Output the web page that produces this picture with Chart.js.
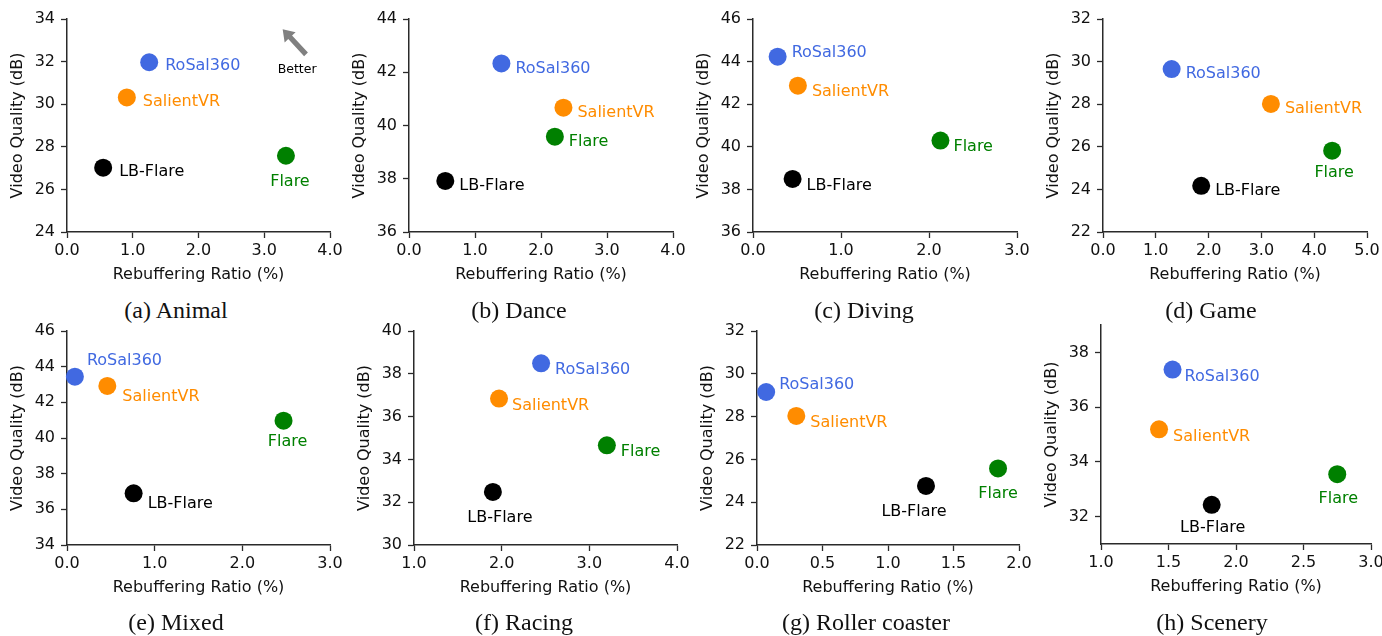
<!DOCTYPE html>
<html>
<head>
<meta charset="utf-8">
<script src="https://cdn.jsdelivr.net/npm/chart.js@4.4.0/dist/chart.umd.min.js"></script>
<style>
  html, body { margin: 0; padding: 0; background: #fff; }
  #page { position: relative; width: 1382px; height: 636px; overflow: hidden; }
  canvas { position: absolute; }
  .caption {
    position: absolute; width: 300px; height: 30px; line-height: 30px;
    text-align: center; font-family: "Liberation Serif", serif; font-size: 24px; color: #111;
  }
</style>
</head>
<body>
<div id="page"></div>
<script>
const videos = ['Animal', 'Dance', 'Diving', 'Game', 'Mixed', 'Racing', 'Roller coaster', 'Scenery'];
const letters = ['a', 'b', 'c', 'd', 'e', 'f', 'g', 'h'];
const methods = ['RoSal360', 'SalientVR', 'Flare', 'LB-Flare'];
const methodColors = ['#4169e1', '#ff8c00', '#008000', '#000000'];

// rebuffering ratio (%), one value per video
const rebufRoSal360 = [1.25, 1.40, 0.28, 1.30, 0.09, 2.45, 0.07, 1.53];
const rebufSalientVR = [0.91, 2.34, 0.51, 3.18, 0.46, 1.97, 0.30, 1.43];
const rebufFlare = [3.33, 2.21, 2.13, 4.34, 2.47, 3.20, 1.84, 2.75];
const rebufLBFlare = [0.55, 0.55, 0.45, 1.86, 0.76, 1.90, 1.29, 1.82];

// video quality (dB), one value per video
const qualRoSal360 = [31.97, 42.33, 44.23, 29.65, 43.44, 38.49, 29.15, 37.37];
const qualSalientVR = [30.32, 40.67, 42.87, 28.01, 42.92, 36.84, 28.03, 35.19];
const qualFlare = [27.58, 39.58, 40.29, 25.82, 40.97, 34.66, 25.58, 33.55];
const qualLBFlare = [27.02, 37.92, 38.49, 24.17, 36.90, 32.48, 24.76, 32.43];

// axis ticks per panel
const xTicks = [
  [0, 1, 2, 3, 4], [0, 1, 2, 3, 4], [0, 1, 2, 3], [0, 1, 2, 3, 4, 5],
  [0, 1, 2, 3], [1, 2, 3, 4], [0, 0.5, 1, 1.5, 2], [1, 1.5, 2, 2.5, 3]
];
const yTicks = [
  [24, 26, 28, 30, 32, 34], [36, 38, 40, 42, 44], [36, 38, 40, 42, 44, 46], [22, 24, 26, 28, 30, 32],
  [34, 36, 38, 40, 42, 44, 46], [30, 32, 34, 36, 38, 40], [22, 24, 26, 28, 30, 32], [32, 34, 36, 38]
];
const yRange = [[24, 34], [36, 44], [36, 46], [22, 32], [34, 46], [30, 40], [22, 32], [31, 39]];

const rebuf = [rebufRoSal360, rebufSalientVR, rebufFlare, rebufLBFlare];
const qual = [qualRoSal360, qualSalientVR, qualFlare, qualLBFlare];

// page layout of each panel's plot area
const plotLeft = [67, 409, 753, 1103, 67, 414, 757, 1101];
const plotRight = [330, 673, 1017, 1367, 330, 677, 1019, 1371];
const plotTop = [19, 19, 19, 19, 331, 331, 331, 325];
const plotBottom = [232, 232, 232, 232, 545, 545, 545, 544];
const captionX = [176, 519, 864, 1211, 176, 524, 866, 1212];
const captionY = [310, 310, 310, 310, 622, 622, 622, 622];

// where each point label sits relative to its point: [dx, dy, align]
const labelPlace = [
  [[16, 4, 'left'], [16, 4, 'left'], [4, 26, 'center'], [16, 4, 'left']],
  [[14, 5, 'left'], [14, 5, 'left'], [14, 5, 'left'], [14, 5, 'left']],
  [[14, -4, 'left'], [14, 6, 'left'], [13, 6, 'left'], [14, 7, 'left']],
  [[14, 5, 'left'], [14, 5, 'left'], [2, 22, 'center'], [14, 5, 'left']],
  [[12, -16, 'left'], [15, 11, 'left'], [4, 21, 'center'], [14, 11, 'left']],
  [[14, 7, 'left'], [13, 7, 'left'], [14, 7, 'left'], [7, 26, 'center']],
  [[13, -7, 'left'], [14, 7, 'left'], [0, 25, 'center'], [-12, 26, 'center']],
  [[12, 7, 'left'], [14, 8, 'left'], [1, 25, 'center'], [1, 23, 'center']]
];

Chart.defaults.font.family = '"DejaVu Sans", sans-serif';
Chart.defaults.font.size = 16;
Chart.defaults.color = '#111';

const axisColor = '#2a2a2a';
const yAxisWidth = 67;
const xAxisHeight = 60;
const padRight = 30;

// text labels next to points
const pointLabels = {
  id: 'pointLabels',
  afterDatasetsDraw(chart) {
    const ctx = chart.ctx;
    const place = labelPlace[chart.options.panelIndex];
    ctx.save();
    ctx.font = '16px "DejaVu Sans", sans-serif';
    ctx.textBaseline = 'middle';
    chart.data.datasets.forEach((ds, d) => {
      const pt = chart.getDatasetMeta(d).data[0];
      const [dx, dy, align] = place[d];
      ctx.fillStyle = ds.backgroundColor;
      ctx.textAlign = align;
      ctx.fillText(ds.label, pt.x + dx, pt.y + dy);
    });
    ctx.restore();
  }
};

// "Better" arrow in the first panel
const betterArrow = {
  id: 'betterArrow',
  afterDatasetsDraw(chart) {
    if (chart.options.panelIndex !== 0) return;
    const xs = chart.scales.x, ys = chart.scales.y;
    const tx = xs.getPixelForValue(3.28), ty = ys.getPixelForValue(33.52);
    const bx = xs.getPixelForValue(3.635), by = ys.getPixelForValue(32.34);
    const len = Math.hypot(tx - bx, ty - by);
    const ux = (tx - bx) / len, uy = (ty - by) / len;
    const px = -uy, py = ux;
    const headLen = 11, headW = 7.5, shaftW = 2.6;
    const hx = tx - ux * headLen, hy = ty - uy * headLen;
    const ctx = chart.ctx;
    ctx.save();
    ctx.fillStyle = '#808080';
    ctx.beginPath();
    ctx.moveTo(bx + px * shaftW, by + py * shaftW);
    ctx.lineTo(hx + px * shaftW, hy + py * shaftW);
    ctx.lineTo(hx + px * headW, hy + py * headW);
    ctx.lineTo(tx, ty);
    ctx.lineTo(hx - px * headW, hy - py * headW);
    ctx.lineTo(hx - px * shaftW, hy - py * shaftW);
    ctx.lineTo(bx - px * shaftW, by - py * shaftW);
    ctx.closePath();
    ctx.fill();
    ctx.fillStyle = '#000';
    ctx.font = '12.5px "DejaVu Sans", sans-serif';
    ctx.textAlign = 'center';
    ctx.textBaseline = 'middle';
    ctx.fillText('Better', xs.getPixelForValue(3.5), ys.getPixelForValue(31.61));
    ctx.restore();
  }
};

const page = document.getElementById('page');

videos.forEach((video, i) => {
  const canvas = document.createElement('canvas');
  const plotW = plotRight[i] - plotLeft[i];
  const plotH = plotBottom[i] - plotTop[i];
  canvas.width = yAxisWidth + plotW + padRight;
  canvas.height = 19 + plotH + xAxisHeight;
  canvas.style.left = (plotLeft[i] - yAxisWidth) + 'px';
  canvas.style.top = (plotTop[i] - 19) + 'px';
  page.appendChild(canvas);

  const cap = document.createElement('div');
  cap.className = 'caption';
  cap.textContent = '(' + letters[i] + ') ' + video;
  cap.style.left = (captionX[i] - 150) + 'px';
  cap.style.top = (captionY[i] - 15) + 'px';
  page.appendChild(cap);

  const xt = xTicks[i], yt = yTicks[i];

  new Chart(canvas, {
    type: 'scatter',
    data: {
      datasets: methods.map((m, d) => ({
        label: m,
        data: [{ x: rebuf[d][i], y: qual[d][i] }],
        backgroundColor: methodColors[d],
        borderWidth: 0,
        pointRadius: 9,
        pointHoverRadius: 9,
        clip: false
      }))
    },
    options: {
      panelIndex: i,
      responsive: false,
      animation: false,
      events: [],
      layout: { padding: { top: 19, right: padRight, bottom: 0, left: 0 } },
      plugins: { legend: { display: false }, tooltip: { enabled: false } },
      scales: {
        x: {
          type: 'linear',
          min: xt[0],
          max: xt[xt.length - 1],
          afterBuildTicks: s => { s.ticks = xt.map(v => ({ value: v })); },
          afterFit: s => { s.height = xAxisHeight; },
          ticks: { autoSkip: false, padding: 3, maxRotation: 0, callback: v => v.toFixed(1) },
          grid: { drawOnChartArea: false, drawTicks: true, tickLength: 6, tickWidth: 1.3, tickColor: axisColor },
          border: { display: true, color: axisColor, width: 1.5 },
          title: { display: true, text: 'Rebuffering Ratio (%)', padding: { top: 0, bottom: 7.4 } }
        },
        y: {
          type: 'linear',
          min: yRange[i][0],
          max: yRange[i][1],
          afterBuildTicks: s => { s.ticks = yt.map(v => ({ value: v })); },
          afterFit: s => { s.width = yAxisWidth; },
          ticks: { autoSkip: false, padding: 6, callback: v => String(v) },
          grid: { drawOnChartArea: false, drawTicks: true, tickLength: 6, tickWidth: 1.3, tickColor: axisColor },
          border: { display: true, color: axisColor, width: 1.5 },
          title: { display: true, text: 'Video Quality (dB)', padding: { top: 8, bottom: 0 } }
        }
      }
    },
    plugins: [pointLabels, betterArrow]
  });
});
</script>
</body>
</html>
